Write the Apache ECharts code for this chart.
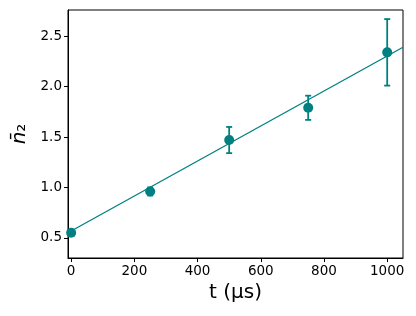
<!DOCTYPE html>
<html><head><meta charset="utf-8">
<script src="https://cdn.jsdelivr.net/npm/echarts@6/dist/echarts.min.js"></script>
<style>html,body{margin:0;padding:0;background:#fff}#c{width:416px;height:316px}</style>
</head><body><div id="c"></div>
<script>
const tValues = [0, 250, 500, 750, 1000];
const nValues = [0.55, 0.96, 1.47, 1.79, 2.34];
const nErrors = [0.02, 0.04, 0.13, 0.12, 0.33];
const fitT = [-10, 1050];
const fitN = [0.55, 2.39];
const xTicks = [0, 200, 400, 600, 800, 1000];
const yTicks = [0.5, 1.0, 1.5, 2.0, 2.5];
const color = '#008080';

const chart = echarts.init(document.getElementById('c'), null, {renderer: 'canvas'});
const font = 'DejaVu Sans';
chart.setOption({
  animation: false,
  grid: {left: 68, right: 13, top: 10, bottom: 58, show: true, borderColor: '#000', borderWidth: 1, backgroundColor: 'transparent'},
  xAxis: {
    type: 'value', min: -10, max: 1050,
    name: 't (μs)', nameLocation: 'middle', nameGap: 24,
    nameTextStyle: {fontFamily: font, fontSize: 20, color: '#000'},
    axisLine: {show: true, onZero: false, lineStyle: {color: '#000', width: 1}},
    axisTick: {show: true, length: 4, lineStyle: {color: '#000'}, customValues: xTicks},
    axisLabel: {fontFamily: font, fontSize: 13.5, color: '#000', margin: 6, customValues: xTicks,
      formatter: v => String(v)},
    splitLine: {show: false}
  },
  yAxis: {
    type: 'value', min: 0.30, max: 2.76,
    name: '{n|n̄}{s|₂}', nameLocation: 'middle', nameGap: 38, nameRotate: 90,
    nameTextStyle: {fontFamily: font, fontSize: 20, color: '#000',
      rich: {n: {fontFamily: font, fontSize: 20, fontStyle: 'italic', color: '#000'},
             s: {fontFamily: font, fontSize: 20, color: '#000'}}},
    axisLine: {show: true, onZero: false, lineStyle: {color: '#000', width: 1}},
    axisTick: {show: true, length: 4, lineStyle: {color: '#000'}, customValues: yTicks},
    axisLabel: {fontFamily: font, fontSize: 13.5, color: '#000', margin: 6, customValues: yTicks,
      formatter: v => v.toFixed(1)},
    splitLine: {show: false}
  },
  series: [
    {
      type: 'line', data: fitT.map((t, i) => [t, fitN[i]]), showSymbol: false,
      lineStyle: {color: color, width: 1.3}, z: 2
    },
    {
      type: 'custom', z: 3,
      data: tValues.map((t, i) => [t, nValues[i] - nErrors[i], nValues[i] + nErrors[i]]),
      renderItem: (params, api) => {
        const lo = api.coord([api.value(0), api.value(1)]);
        const hi = api.coord([api.value(0), api.value(2)]);
        const w = 3;
        const st = {stroke: color, lineWidth: 1.8};
        return {type: 'group', children: [
          {type: 'line', shape: {x1: lo[0], y1: lo[1], x2: hi[0], y2: hi[1]}, style: st},
          {type: 'line', shape: {x1: lo[0] - w, y1: lo[1], x2: lo[0] + w, y2: lo[1]}, style: st},
          {type: 'line', shape: {x1: hi[0] - w, y1: hi[1], x2: hi[0] + w, y2: hi[1]}, style: st}
        ]};
      }
    },
    {
      type: 'scatter', data: tValues.map((t, i) => [t, nValues[i]]),
      symbol: 'circle', symbolSize: 10, itemStyle: {color: color, opacity: 1}, z: 4
    }
  ]
});
</script></body></html>
